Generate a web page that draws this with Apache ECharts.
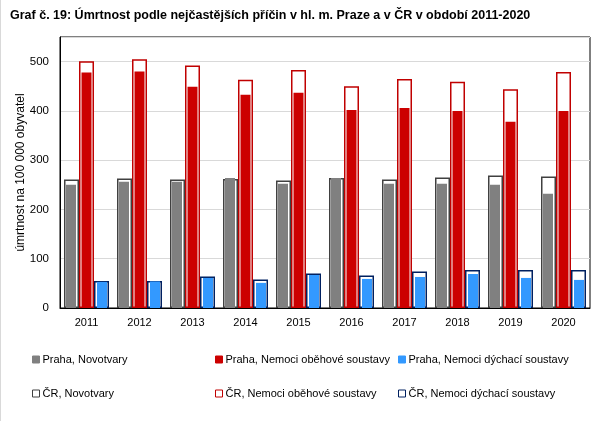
<!DOCTYPE html>
<html>
<head>
<meta charset="utf-8">
<script src="https://cdn.jsdelivr.net/npm/echarts@6/dist/echarts.min.js"></script>
<style>
html,body{margin:0;padding:0;background:#fff;}
#c{width:604px;height:421px;box-sizing:border-box;border-left:1px solid #d9d9d9;}
</style>
</head>
<body>
<div id="c"></div>
<script>
const years = ['2011','2012','2013','2014','2015','2016','2017','2018','2019','2020'];
const prahaNovotvary = [250, 256, 256, 264, 252, 264, 252, 252, 250, 232];
const prahaObehove = [478, 480, 449, 433, 437, 402, 406, 400, 378, 400];
const prahaDychaci = [53, 54, 61, 51, 67, 59, 63, 69, 61, 57];
const crNovotvary = [261, 263, 261, 262, 259, 264, 261, 265, 269, 267];
const crObehove = [501, 505, 492, 463, 483, 450, 465, 459, 444, 479];
const crDychaci = [55, 55, 64, 58, 70, 66, 74, 77, 77, 77];
const yTicks = [0, 100, 200, 300, 400, 500];

const FONT = 'Liberation Sans';
const chart = echarts.init(document.getElementById('c'));

function legendItem(name, left, top) {
  return {
    data: [name], left: left, top: top, itemWidth: 7, itemHeight: 7, itemGap: 0,
    padding: 0, selectedMode: false, icon: 'rect',
    itemStyle: {borderWidth: 1},
    textStyle: {fontFamily: FONT, fontSize: 11, color: '#000', padding: [0, 0, 0, -2]}
  };
}

const crBar = (name, data, border) => ({
  name: name, type: 'bar', xAxisIndex: 0, data: data, barWidth: 15, barGap: '0%',
  itemStyle: {color: '#fff', borderColor: border, borderWidth: 1.5}, z: 2
});
const prBar = (name, data, color) => ({
  name: name, type: 'bar', xAxisIndex: 1, data: data, barWidth: 10, barGap: '55%',
  itemStyle: {color: color, borderColor: color, borderWidth: 0}, z: 3
});

chart.setOption({
  animation: false,
  textStyle: {fontFamily: FONT},
  title: {
    text: 'Graf č. 19: Úmrtnost podle nejčastějších příčin v hl. m. Praze a v ČR v období 2011-2020',
    left: 4, top: 4,
    textStyle: {fontFamily: FONT, fontSize: 12.5, fontWeight: 'bold', color: '#000'}
  },
  legend: [
    legendItem('Praha, Novotvary', 31, 354),
    legendItem('Praha, Nemoci oběhové soustavy', 214, 354),
    legendItem('Praha, Nemoci dýchací soustavy', 397, 354),
    legendItem('ČR, Novotvary', 31, 388),
    legendItem('ČR, Nemoci oběhové soustavy', 214, 388),
    legendItem('ČR, Nemoci dýchací soustavy', 397, 388)
  ],
  grid: {left: 59, right: 14, top: 37, bottom: 113, show: true, borderColor: '#000', borderWidth: 1, containLabel: false},
  xAxis: [
    {type: 'category', data: years, axisLine: {lineStyle: {color: '#000', width: 1}}, axisTick: {show: false},
     axisLabel: {fontFamily: FONT, fontSize: 11, color: '#000', margin: 9}},
    {type: 'category', data: years, show: false}
  ],
  yAxis: {
    type: 'value', min: 0, max: 550, interval: 100,
    name: 'úmrtnost na 100 000 obyvatel', nameLocation: 'middle', nameGap: 33, nameRotate: 90,
    nameMoveOverlap: false,
    nameTextStyle: {fontFamily: FONT, fontSize: 12, color: '#000'},
    axisLine: {show: true, lineStyle: {color: '#000', width: 1}}, axisTick: {show: false},
    axisLabel: {fontFamily: FONT, fontSize: 11.5, color: '#000', margin: 11, showMaxLabel: false,
      formatter: v => yTicks.includes(v) ? String(v) : ''},
    splitLine: {lineStyle: {color: '#d9d9d9', width: 1}}
  },
  series: [
    crBar('ČR, Novotvary', crNovotvary, '#404040'),
    crBar('ČR, Nemoci oběhové soustavy', crObehove, '#c00000'),
    crBar('ČR, Nemoci dýchací soustavy', crDychaci, '#002060'),
    prBar('Praha, Novotvary', prahaNovotvary, '#808080'),
    prBar('Praha, Nemoci oběhové soustavy', prahaObehove, '#cc0000'),
    prBar('Praha, Nemoci dýchací soustavy', prahaDychaci, '#3399ff')
  ]
});
</script>
</body>
</html>
